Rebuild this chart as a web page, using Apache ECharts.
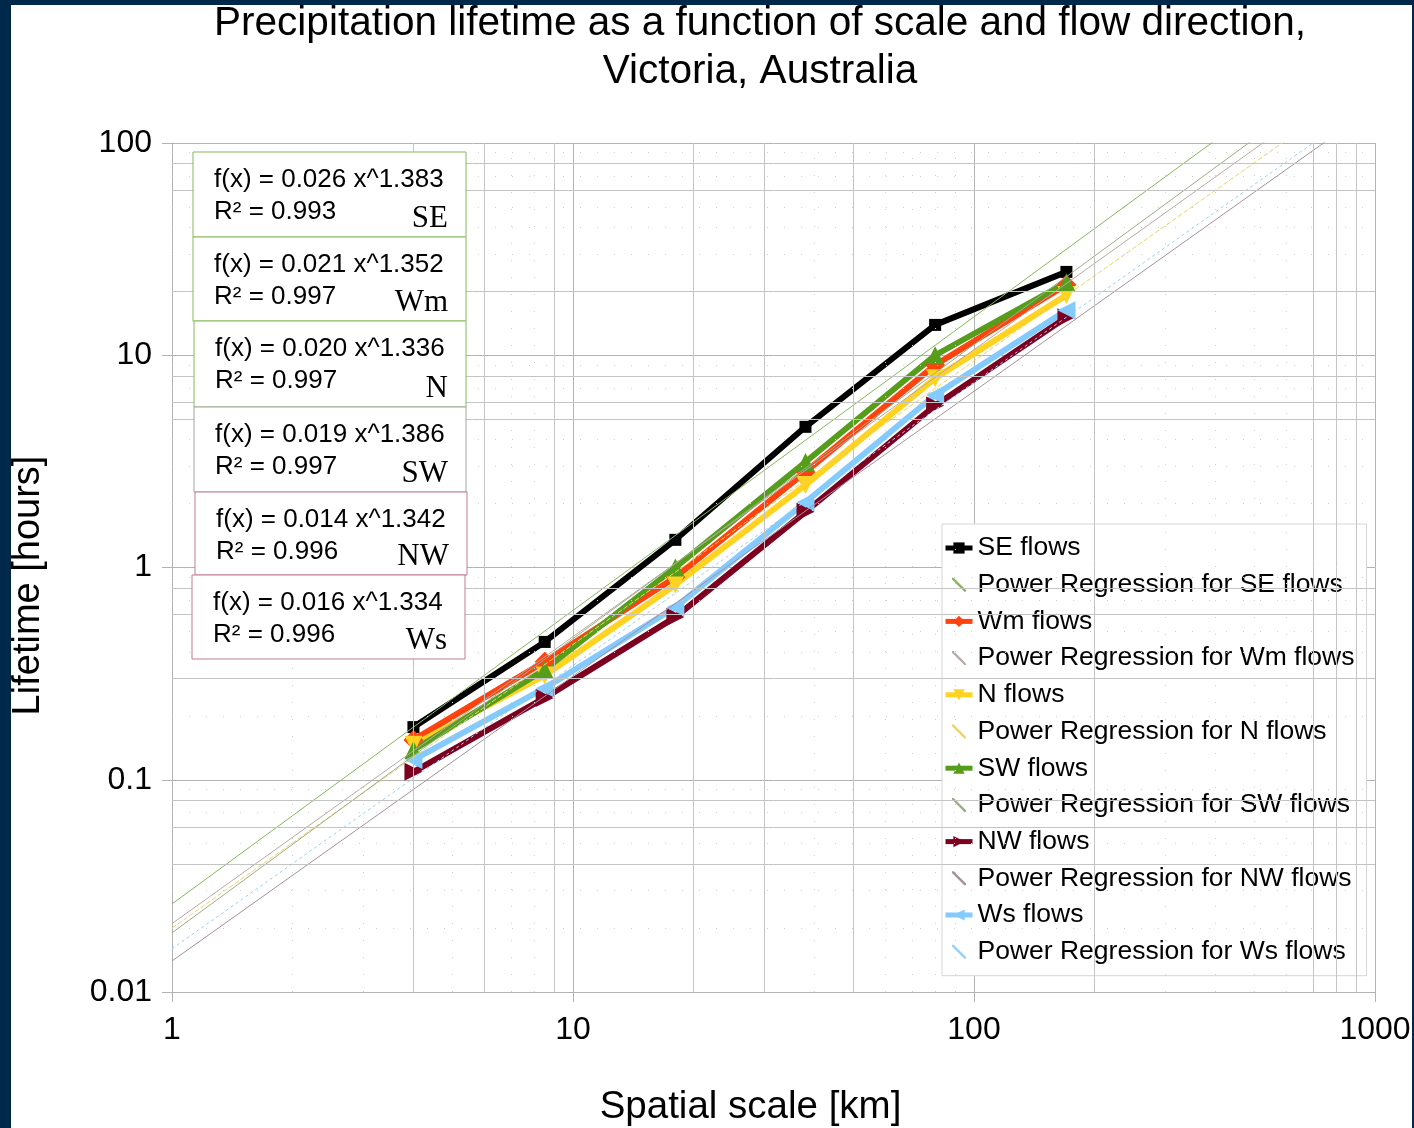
<!DOCTYPE html>
<html>
<head>
<meta charset="utf-8">
<title>Precipitation lifetime</title>
<script src="https://cdn.jsdelivr.net/npm/echarts@6/dist/echarts.min.js"></script>
<style>
  html, body { margin: 0; padding: 0; width: 1414px; height: 1128px; overflow: hidden; background: #00284b; }
  #paper { position: absolute; left: 11px; top: 5px; right: 2px; bottom: 0; background: #ffffff; }
  #chart { position: absolute; left: 0; top: 0; width: 1414px; height: 1128px; }
</style>
</head>
<body>
<div id="paper"></div>
<div id="chart"></div>
<script>
// Spatial scales [km] at which lifetimes were computed
const scales = [4, 8.5, 18, 38, 80, 170];

// Lifetime [hours] per flow direction
const flowNames = ['SE', 'Wm', 'N', 'SW', 'NW', 'Ws'];
const lifeSE = [0.177, 0.446, 1.35, 4.6, 13.9, 24.7];
const lifeWm = [0.154, 0.36, 0.90, 2.82, 9.0, 21.5];
const lifeN  = [0.146, 0.31, 0.83, 2.45, 7.8, 19.2];
const lifeSW = [0.138, 0.33, 1.0, 3.14, 10.0, 22.0];
const lifeNW = [0.109, 0.243, 0.584, 1.83, 5.8, 15.1];
const lifeWs = [0.124, 0.27, 0.65, 2.03, 6.5, 16.3];
const lifetimes = [lifeSE, lifeWm, lifeN, lifeSW, lifeNW, lifeWs];

// Power-law fits f(x) = a x^b
const fitA  = [0.026, 0.021, 0.020, 0.019, 0.014, 0.016];
const fitB  = [1.383, 1.352, 1.336, 1.386, 1.342, 1.334];
const fitR2 = [0.993, 0.997, 0.997, 0.997, 0.996, 0.996];

// Axis ranges
const xRange = [1, 1000];
const yRange = [0.01, 100];

// Intermediate grid values
const xMinorSolid = [4, 6, 9, 20, 30, 50, 200, 700, 800, 900];
const xMinorFaint = [2, 3, 5, 7, 8, 40, 60, 70, 80, 90, 300, 400, 500, 600];
const yMinorSolid = [80, 60, 20, 8, 6, 5, 0.8, 0.6, 0.3, 0.08, 0.06, 0.04];
const yMinorFaint = [90, 70, 50, 40, 30, 9, 7, 4, 3, 2, 0.9, 0.7, 0.5, 0.4, 0.2,
                     0.09, 0.07, 0.05, 0.03, 0.02];

// ---- styling ----
const FONT = 'Liberation Sans, Arial, sans-serif';
const lineColors = ['#000000', '#ff420e', '#ffd320', '#579d1c', '#7e0021', '#83caff'];
const markerShapes = ['rect', 'diamond', 'triangle', 'triangle', 'triangle', 'triangle'];
const markerRotate = [0, 0, 180, 0, -90, 90];
const markerSizes = [12, 20, 18, 18, 18, 18];
const fitColors = ['#86b95c', '#b9a9a4', '#efd26a', '#99ae88', '#a8909a', '#9ccff5'];
const fitDash = ['solid', 'solid', [5, 2], 'solid', 'solid', [3, 3]];
const boxBorder = ['#86b95c', '#86b95c', '#86b95c', '#a4a4a4', '#c27d8f', '#c27d8f'];
const boxLayout = [
  { x: 193, y: 152, w: 273, h: 85 },
  { x: 193, y: 237, w: 273, h: 84 },
  { x: 194, y: 321, w: 272, h: 86 },
  { x: 194, y: 407, w: 272, h: 85 },
  { x: 195, y: 492, w: 272, h: 83 },
  { x: 192, y: 575, w: 273, h: 84 }
];
const diagIcon = 'path://M0,0L1.2,0L10,8.8L10,10L8.8,10L0,1.2Z';

const flowSeries = flowNames.map((n, i) => ({
  type: 'line',
  name: n + ' flows',
  data: scales.map((x, j) => [x, lifetimes[i][j]]),
  symbol: markerShapes[i],
  symbolSize: markerSizes[i],
  symbolRotate: markerRotate[i],
  showSymbol: true,
  color: lineColors[i],
  lineStyle: { width: 6, color: lineColors[i] },
  itemStyle: { color: lineColors[i] },
  z: 3,
  animation: false
}));

const fitSeries = flowNames.map((n, i) => ({
  type: 'line',
  name: 'Power Regression for ' + n + ' flows',
  data: xRange.map(x => [x, fitA[i] * Math.pow(x, fitB[i])]),
  symbol: 'none',
  clip: true,
  color: fitColors[i],
  lineStyle: { width: 1, color: fitColors[i], type: fitDash[i] },
  z: 4,
  animation: false
}));

const gridSeries = [
  {
    type: 'line', name: 'minor-solid', data: [], z: 1, silent: true,
    markLine: {
      silent: true, symbol: ['none', 'none'], label: { show: false }, animation: false,
      lineStyle: { color: '#c4c4c4', width: 1, type: 'solid' },
      emphasis: { disabled: true },
      data: xMinorSolid.map(v => ({ xAxis: v })).concat(yMinorSolid.map(v => ({ yAxis: v })))
    }
  },
  {
    type: 'line', name: 'minor-faint', data: [], z: 1, silent: true,
    markLine: {
      silent: true, symbol: ['none', 'none'], label: { show: false }, animation: false,
      lineStyle: { color: '#d0d0d0', width: 1, type: [1, 16] },
      emphasis: { disabled: true },
      data: xMinorFaint.map(v => ({ xAxis: v })).concat(yMinorFaint.map(v => ({ yAxis: v })))
    }
  }
];

// Legend alternates each flow with its regression
const legendData = [];
flowNames.forEach((n, i) => {
  legendData.push({ name: n + ' flows' });
  legendData.push({ name: 'Power Regression for ' + n + ' flows', icon: diagIcon });
});

// Equation boxes
const boxGraphics = [];
flowNames.forEach((n, i) => {
  const b = boxLayout[i];
  boxGraphics.push(
    { type: 'rect', z: 100, shape: { x: b.x, y: b.y, width: b.w, height: b.h },
      style: { fill: '#ffffff', stroke: boxBorder[i], lineWidth: 1 } },
    { type: 'text', z: 101, x: b.x + 21, y: b.y + 28,
      style: { text: 'f(x) = ' + fitA[i].toFixed(3) + ' x^' + fitB[i].toFixed(3),
               font: '26px ' + FONT, fill: '#000', verticalAlign: 'middle' } },
    { type: 'text', z: 101, x: b.x + 21, y: b.y + 60,
      style: { text: 'R² = ' + fitR2[i].toFixed(3),
               font: '26px ' + FONT, fill: '#000', verticalAlign: 'middle' } },
    { type: 'text', z: 101, x: b.x + b.w - 18, y: b.y + b.h - 3,
      style: { text: n, font: '31px "Liberation Serif", "Times New Roman", serif',
               fill: '#000', align: 'right', verticalAlign: 'bottom' } }
  );
});

const axisCommon = {
  type: 'log',
  logBase: 10,
  axisLine: { show: true, onZero: false, lineStyle: { color: '#b3b3b3', width: 1 } },
  axisTick: { show: true, length: 10, lineStyle: { color: '#b3b3b3' } },
  splitLine: { show: true, lineStyle: { color: '#b3b3b3', width: 1 } },
  minorTick: { show: false },
  minorSplitLine: { show: false }
};

const chart = echarts.init(document.getElementById('chart'), null, { renderer: 'canvas' });
chart.setOption({
  backgroundColor: 'transparent',
  animation: false,
  textStyle: { fontFamily: FONT },
  title: {
    text: 'Precipitation lifetime as a function of scale and flow direction,\nVictoria, Australia',
    left: 760,
    top: 0,
    textAlign: 'center',
    padding: 0,
    textStyle: { fontSize: 40.5, fontWeight: 'normal', color: '#000', lineHeight: 48, fontFamily: FONT }
  },
  grid: { left: 172, right: 39, top: 143, bottom: 136, containLabel: false, outerBoundsMode: 'none' },
  xAxis: Object.assign({}, axisCommon, {
    min: xRange[0], max: xRange[1],
    axisLabel: { fontSize: 32, color: '#000', margin: 22, fontFamily: FONT,
                 formatter: v => String(+Number(v).toPrecision(3)) },
    name: 'Spatial scale [km]',
    nameLocation: 'middle',
    nameGap: 96,
    nameTextStyle: { fontSize: 38.5, color: '#000', fontFamily: FONT, padding: [0, 46, 0, 0] }
  }),
  yAxis: Object.assign({}, axisCommon, {
    min: yRange[0], max: yRange[1],
    axisLabel: { fontSize: 32, color: '#000', margin: 20, fontFamily: FONT,
                 formatter: v => String(+Number(v).toPrecision(3)) },
    name: 'Lifetime [hours]',
    nameLocation: 'middle',
    nameGap: 124,
    nameTextStyle: { fontSize: 38, color: '#000', fontFamily: FONT, padding: [0, 36, 0, 0] }
  }),
  legend: {
    orient: 'vertical',
    left: 942,
    top: 524,
    padding: [9, 12, 9, 1],
    itemWidth: 27,
    itemHeight: 14,
    itemGap: 6.7,
    selectedMode: false,
    backgroundColor: '#ffffff',
    borderColor: '#d6d6d6',
    borderWidth: 1,
    lineStyle: { width: 5 },
    textStyle: { fontSize: 26.5, color: '#000', lineHeight: 30, fontFamily: FONT },
    data: legendData
  },
  graphic: boxGraphics,
  series: gridSeries.concat(flowSeries, fitSeries)
});
</script>
</body>
</html>
